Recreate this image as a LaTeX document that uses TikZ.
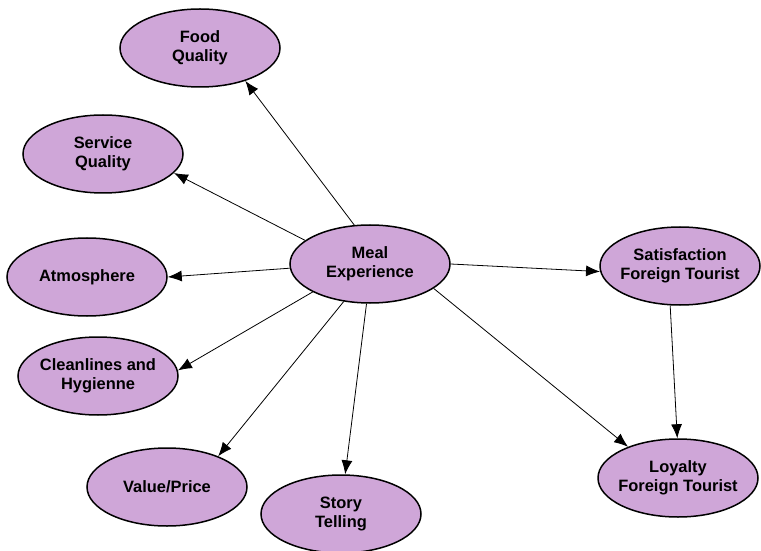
\documentclass[tikz,border=0pt]{standalone}
\usepackage{fontspec}
\setmainfont{Liberation Sans}
\usetikzlibrary{arrows.meta,shapes.geometric}
\definecolor{lilac}{RGB}{207,166,216}

\begin{document}
\begin{tikzpicture}[x=1bp, y=1bp, >={Latex[length=14bp,width=11bp]},
          construct/.style={ellipse, draw, line width=1.5bp, fill=lilac,
            minimum width=160bp, minimum height=78bp, inner xsep=-15bp, inner ysep=0pt,
            align=center, font=\bfseries\fontsize{16.5}{19}\selectfont},
          link/.style={->, line width=0.8bp}]

          \useasboundingbox (0,0) rectangle (761,-551);

          \node[construct] (meal) at (370,-264) {Meal\\Experience};
          \node[construct] (food) at (200,-48) {Food\\Quality};
          \node[construct] (service) at (103,-154) {Service\\Quality};
          \node[construct] (atmos) at (87,-277) {Atmosphere};
          \node[construct] (clean) at (98,-376) {Cleanlines and\\Hygienne};
          \node[construct] (value) at (167,-487) {Value/Price};
          \node[construct] (story) at (341,-514) {Story\\Telling};
          \node[construct] (satis) at (680,-266) {Satisfaction\\Foreign Tourist};
          \node[construct] (loyal) at (678,-478) {Loyalty\\Foreign Tourist};

          \draw[link] (meal.112) -- (food.-36);
          \draw[link] (meal.160) -- (service.-15);
          \draw[link] (meal.183) -- (atmos.0);
          \draw[link] (meal.206) -- (clean.4);
          \draw[link] (meal.235) -- (value.31);
          \draw[link] (meal.265) -- (story.84);
          \draw[link] (meal.0) -- (satis.184);
          \draw[link] (meal.-21) -- (loyal.148);
          \draw[link] (satis.256) -- (loyal.91);
        \end{tikzpicture}
\end{document}
